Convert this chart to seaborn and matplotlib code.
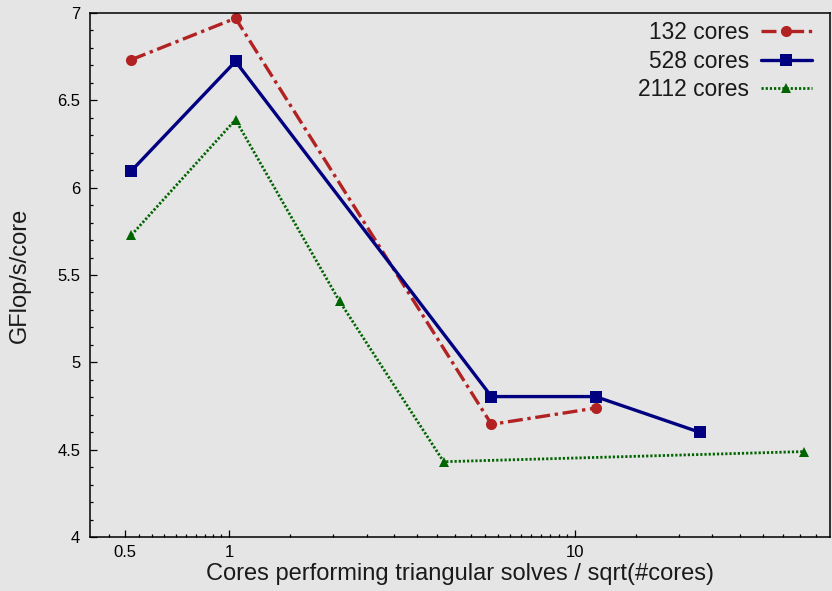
import numpy as np
import pandas as pd
import matplotlib
matplotlib.use("Agg")
import matplotlib.pyplot as plt
from matplotlib.ticker import FixedLocator, FuncFormatter
import seaborn as sns

# Cores performing triangular solves divided by sqrt(total cores)
x_132 = [0.522, 1.044, 5.745, 11.49]
gf_132 = [6.733, 6.970, 4.645, 4.738]

x_528 = [0.522, 1.044, 5.745, 11.49, 22.98]
gf_528 = [6.097, 6.723, 4.804, 4.804, 4.600]

x_2112 = [0.522, 1.044, 2.089, 4.178, 45.96]
gf_2112 = [5.729, 6.389, 5.349, 4.431, 4.489]

labels = ["132 cores", "528 cores", "2112 cores"]

x_major = [0.5, 1, 10]
y_major = [4, 4.5, 5, 5.5, 6, 6.5, 7]

bg = "#e5e5e5"
sns.set_theme(style="ticks")
plt.rcParams["font.family"] = ["Liberation Sans", "DejaVu Sans"]

fig = plt.figure(figsize=(8.32, 5.91), dpi=100, facecolor=bg)
ax = fig.add_axes([90 / 832, 1 - 537 / 591, 740 / 832, 524 / 591])
ax.set_facecolor(bg)

series = [
    (x_132, gf_132, labels[0], "#b22222", "o", (0, (4.5, 1.4, 1, 1.4)), 2.4, 8.0),
    (x_528, gf_528, labels[1], "#000080", "s", "-", 2.4, 8.5),
    (x_2112, gf_2112, labels[2], "#006400", "^", (0, (0.8, 0.7)), 2.0, 7.0),
]
for xs, ys, lab, col, mk, ls, lw, ms in series:
    df = pd.DataFrame({"x": xs, "y": ys})
    sns.lineplot(data=df, x="x", y="y", ax=ax, color=col, marker=mk,
                 linestyle=ls, linewidth=lw, markersize=ms,
                 markeredgewidth=0, label=lab, sort=False)

ax.set_xscale("log")
ax.set_xlim(0.396, 54.8)
ax.set_ylim(4, 7)

ax.xaxis.set_major_locator(FixedLocator(x_major))
ax.xaxis.set_major_formatter(FuncFormatter(lambda v, p: f"{v:g}"))
minor_x = ([round(v, 2) for v in np.arange(0.45, 1.0, 0.05) if abs(v - 0.5) > 1e-6]
           + [v for v in np.arange(1.5, 10.0, 0.5)]
           + [v for v in np.arange(15, 55, 5)])
ax.xaxis.set_minor_locator(FixedLocator(minor_x))
ax.xaxis.set_minor_formatter(FuncFormatter(lambda v, p: ""))

ax.yaxis.set_major_locator(FixedLocator(y_major))
ax.yaxis.set_major_formatter(FuncFormatter(lambda v, p: f"{v:g}"))
ax.yaxis.set_minor_locator(FixedLocator(np.arange(4.1, 7.0, 0.1)))

ax.tick_params(which="both", direction="in", top=False, right=False,
               colors="black", width=0.9)
ax.tick_params(which="major", length=5, labelsize=12, pad=7)
ax.tick_params(which="minor", length=2.5)
ax.tick_params(axis="x", which="major", pad=6)

for sp in ax.spines.values():
    sp.set_visible(True)
    sp.set_color("black")
    sp.set_linewidth(1.1)

ax.set_xlabel("Cores performing triangular solves / sqrt(#cores)",
              fontsize=17, color="#1a1a1a", labelpad=2)
ax.set_ylabel("GFlop/s/core", fontsize=17, color="#1a1a1a", labelpad=19)

leg = ax.legend(loc="upper right", bbox_to_anchor=(812 / 832, 1 - 21 / 591),
                bbox_transform=fig.transFigure, frameon=False, markerfirst=False,
                fontsize=16.4, handlelength=2.24, handletextpad=0.53,
                labelspacing=0.25, borderaxespad=0.0, borderpad=0.0)
for t in leg.get_texts():
    t.set_color("#1a1a1a")

fig.savefig("out.png", dpi=100, facecolor=bg)
